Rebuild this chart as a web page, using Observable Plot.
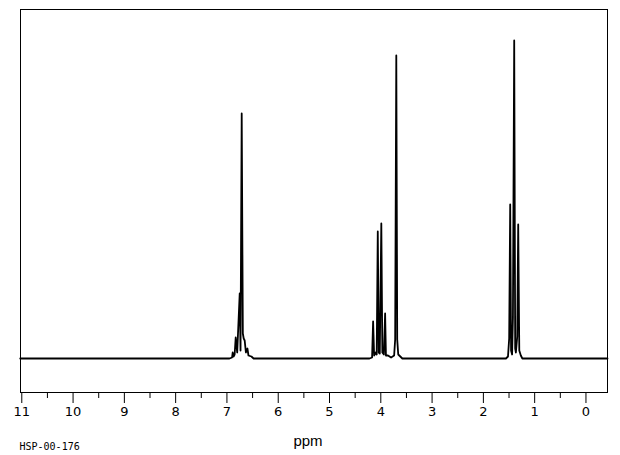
<!DOCTYPE html>
<html><head><meta charset="utf-8">
<script src="https://cdn.jsdelivr.net/npm/d3@7"></script>
<script src="https://cdn.jsdelivr.net/npm/@observablehq/plot@0.6"></script>
<style>body{margin:0;background:#fff}</style>
</head><body><div id="chart"></div>
<script>
// Spectrum points (chemical shift in ppm, signal height)
const ppm = [11.03, 6.95, 6.90, 6.888, 6.87, 6.85, 6.829, 6.80, 6.751, 6.735, 6.712, 6.69, 6.673, 6.654, 6.63, 6.601, 6.58, 6.523, 6.48,
             4.22, 4.17, 4.150, 4.13, 4.10, 4.08, 4.059, 4.04, 4.02, 3.990, 3.97, 3.94, 3.916, 3.90, 3.86, 3.80, 3.74, 3.72, 3.698, 3.68, 3.66, 3.62, 3.58,
             1.56, 1.52, 1.497, 1.477, 1.46, 1.44, 1.424, 1.399, 1.38, 1.366, 1.34, 1.321, 1.30, 1.27, 1.24, -0.42];
const intensity = [0, 0, 1, 6, 2, 4, 21, 6, 65, 8, 245, 25, 20, 18, 6, 10, 3, 2, 0,
                   0, 1, 37, 3, 6, 4, 127, 6, 5, 135, 6, 4, 45, 3, 3, 1, 3, 19, 303, 19, 4, 2, 0,
                   0, 2, 20, 154, 8, 4, 41, 318, 10, 6, 22, 134, 8, 3, 0, 0];
const majorTicks = [11, 10, 9, 8, 7, 6, 5, 4, 3, 2, 1, 0];
const minorTicks = [10.5, 9.5, 8.5, 7.5, 6.5, 5.5, 4.5, 3.5, 2.5, 1.5, 0.5];
const axisTitle = "ppm";
const specLabel = "HSP-00-176";

const spectrum = ppm.map((p, i) => ({ppm: p, intensity: intensity[i]}));

const chart = Plot.plot({
  width: 620, height: 455,
  marginLeft: 20, marginRight: 13, marginTop: 9, marginBottom: 63,
  style: {background: "white", fontFamily: "DejaVu Sans", color: "black"},
  x: {domain: [11.025, -0.42], axis: null},
  y: {domain: [-34, 349], axis: null},
  marks: [
    Plot.line(spectrum, {x: "ppm", y: "intensity", stroke: "black", strokeWidth: 1.8}),
    Plot.frame({stroke: "black", strokeWidth: 1}),
    Plot.axisX(majorTicks, {anchor: "bottom", tickSize: 11, tickPadding: 3, fontSize: 13, label: null, tickFormat: d => String(d), stroke: "black", strokeWidth: 1}),
    Plot.axisX(minorTicks, {anchor: "bottom", tickSize: 6, label: null, tickFormat: () => "", stroke: "black", strokeWidth: 1}),
    Plot.text([axisTitle], {frameAnchor: "bottom", dx: -6, dy: 49, lineAnchor: "middle", fontSize: 15, fontFamily: "Liberation Sans", fill: "black"}),
    Plot.text([specLabel], {frameAnchor: "bottom-left", dx: -1, dy: 54, textAnchor: "start", lineAnchor: "middle", fontSize: 10, fontFamily: "DejaVu Sans Mono", fill: "black"})
  ]
});
document.getElementById("chart").appendChild(chart);
</script>
</body></html>
